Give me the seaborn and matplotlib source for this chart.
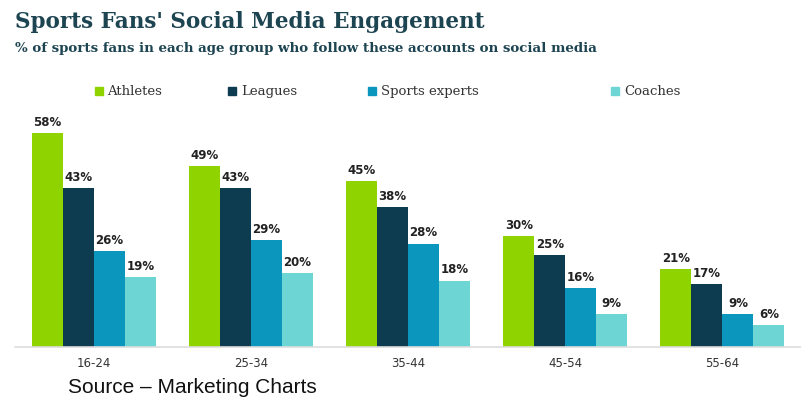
import matplotlib
matplotlib.use("Agg")
import matplotlib.pyplot as plt
import seaborn as sns
import pandas as pd

age_groups = ["16-24", "25-34", "35-44", "45-54", "55-64"]
series_names = ["Athletes", "Leagues", "Sports experts", "Coaches"]
athletes = [58, 49, 45, 30, 21]
leagues = [43, 43, 38, 25, 17]
sports_experts = [26, 29, 28, 16, 9]
coaches = [19, 20, 18, 9, 6]
colors = ["#8fd400", "#0d3b4f", "#0b96bd", "#6dd5d3"]

values = [athletes, leagues, sports_experts, coaches]
rows = []
for name, vals in zip(series_names, values):
    for g, v in zip(age_groups, vals):
        rows.append({"Age": g, "Series": name, "Value": v})
df = pd.DataFrame(rows)

sns.set_theme(style="white")
plt.rcParams["font.family"] = ["DejaVu Sans"]

fig = plt.figure(figsize=(8.01, 4.05), dpi=100)
ax = fig.add_axes([0.019, 0.143, 0.981, 0.593])
sns.barplot(data=df, x="Age", y="Value", hue="Series", hue_order=series_names,
            order=age_groups, palette=colors, width=0.79, saturation=1,
            linewidth=0, ax=ax, legend=False)
for cont in ax.containers:
    ax.bar_label(cont, fmt="%d%%", padding=3, fontsize=8.5, fontweight="bold",
                 color="#222222")
ax.set_xlim(-0.5, 4.5)
ax.set_ylim(0, 65)
ax.set_yticks([])
ax.set_xlabel("")
ax.set_ylabel("")
for s in ["top", "right", "left"]:
    ax.spines[s].set_visible(False)
ax.spines["bottom"].set_color("#dddddd")
ax.spines["bottom"].set_linewidth(1.2)
ax.tick_params(axis="x", length=0, pad=7, labelsize=8.5, labelcolor="#333333")

fig.text(0.019, 0.945, "Sports Fans' Social Media Engagement", fontsize=15.5,
         fontweight="bold", family="DejaVu Serif", color="#1d4451", va="center")
fig.text(0.019, 0.88, "% of sports fans in each age group who follow these accounts on social media",
         fontsize=9.6, fontweight="bold", family="DejaVu Serif", color="#1d4451", va="center")

leg_x = [0.118, 0.285, 0.460, 0.763]
for x, name, c in zip(leg_x, series_names, colors):
    fig.patches.append(plt.Rectangle((x, 0.765), 0.010, 0.02, transform=fig.transFigure,
                                     color=c, figure=fig))
    fig.text(x + 0.016, 0.775, name, fontsize=9.5, family="DejaVu Serif",
             color="#333333", va="center")

fig.text(0.085, 0.042, "Source \u2013 Marketing Charts", fontsize=15,
         family="Liberation Sans", color="#111111", va="center")

fig.savefig("out.png", dpi=100)
